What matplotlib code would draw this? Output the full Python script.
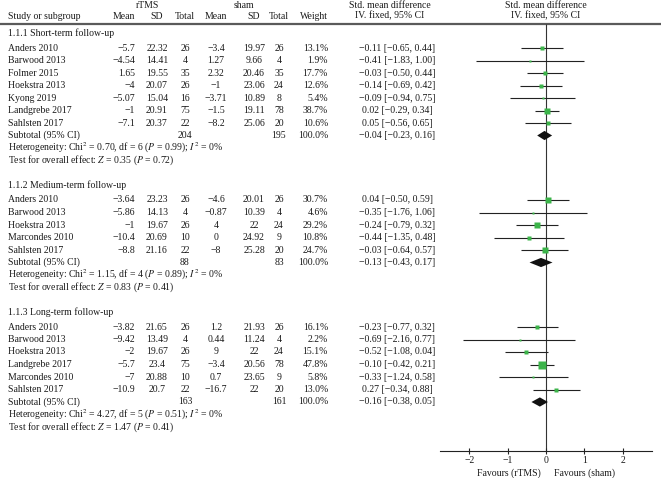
import matplotlib
matplotlib.use("Agg")
import matplotlib.pyplot as plt
import numpy as np

plt.rcParams['font.family'] = ['Liberation Serif', 'DejaVu Serif']
plt.rcParams['mathtext.fontset'] = 'stix'

# ---------------- data ----------------
sections = ["1.1.1 Short-term follow-up", "1.1.2 Medium-term follow-up", "1.1.3 Long-term follow-up"]

short_names = ["Anders 2010", "Barwood 2013", "Folmer 2015", "Hoekstra 2013", "Kyong 2019", "Landgrebe 2017", "Sahlsten 2017"]
short_rtms_mean = [-5.7, -4.54, 1.65, -4, -5.07, -1, -7.1]
short_rtms_sd = [22.32, 14.41, 19.55, 20.07, 15.04, 20.91, 20.37]
short_rtms_n = [26, 4, 35, 26, 16, 75, 22]
short_sham_mean = [-3.4, 1.27, 2.32, -1, -3.71, -1.5, -8.2]
short_sham_sd = [19.97, 9.66, 20.46, 23.06, 10.89, 19.11, 25.06]
short_sham_n = [26, 4, 35, 24, 8, 78, 20]
short_weight = [13.1, 1.9, 17.7, 12.6, 5.4, 38.7, 10.6]
short_smd = [-0.11, -0.41, -0.03, -0.14, -0.09, 0.02, 0.05]
short_lo = [-0.65, -1.83, -0.50, -0.69, -0.94, -0.29, -0.56]
short_hi = [0.44, 1.00, 0.44, 0.42, 0.75, 0.34, 0.65]
short_total = [204, 195]
short_sub = [-0.04, -0.23, 0.16]
short_het = ["0.70", "6", "0.99", "0"]
short_z = ["0.35", "0.72"]

med_names = ["Anders 2010", "Barwood 2013", "Hoekstra 2013", "Marcondes 2010", "Sahlsten 2017"]
med_rtms_mean = [-3.64, -5.86, -1, -10.4, -8.8]
med_rtms_sd = [23.23, 14.13, 19.67, 20.69, 21.16]
med_rtms_n = [26, 4, 26, 10, 22]
med_sham_mean = [-4.6, -0.87, 4, 0, -8]
med_sham_sd = [20.01, 10.39, 22, 24.92, 25.28]
med_sham_n = [26, 4, 24, 9, 20]
med_weight = [30.7, 4.6, 29.2, 10.8, 24.7]
med_smd = [0.04, -0.35, -0.24, -0.44, -0.03]
med_lo = [-0.50, -1.76, -0.79, -1.35, -0.64]
med_hi = [0.59, 1.06, 0.32, 0.48, 0.57]
med_total = [88, 83]
med_sub = [-0.13, -0.43, 0.17]
med_het = ["1.15", "4", "0.89", "0"]
med_z = ["0.83", "0.41"]

long_names = ["Anders 2010", "Barwood 2013", "Hoekstra 2013", "Landgrebe 2017", "Marcondes 2010", "Sahlsten 2017"]
long_rtms_mean = [-3.82, -9.42, -2, -5.7, -7, -10.9]
long_rtms_sd = [21.65, 13.49, 19.67, 23.4, 20.88, 20.7]
long_rtms_n = [26, 4, 26, 75, 10, 22]
long_sham_mean = [1.2, 0.44, 9, -3.4, 0.7, -16.7]
long_sham_sd = [21.93, 11.24, 22, 20.56, 23.65, 22]
long_sham_n = [26, 4, 24, 78, 9, 20]
long_weight = [16.1, 2.2, 15.1, 47.8, 5.8, 13.0]
long_smd = [-0.23, -0.69, -0.52, -0.10, -0.33, 0.27]
long_lo = [-0.77, -2.16, -1.08, -0.42, -1.24, -0.34]
long_hi = [0.32, 0.77, 0.04, 0.21, 0.58, 0.88]
long_total = [163, 161]
long_sub = [-0.16, -0.38, 0.05]
long_het = ["4.27", "5", "0.51", "0"]
long_z = ["1.47", "0.41"]

xticks = [-2, -1, 0, 1, 2]

groups = [
    (short_names, short_rtms_mean, short_rtms_sd, short_rtms_n, short_sham_mean, short_sham_sd, short_sham_n,
     short_weight, short_smd, short_lo, short_hi, short_total, short_sub, short_het, short_z),
    (med_names, med_rtms_mean, med_rtms_sd, med_rtms_n, med_sham_mean, med_sham_sd, med_sham_n,
     med_weight, med_smd, med_lo, med_hi, med_total, med_sub, med_het, med_z),
    (long_names, long_rtms_mean, long_rtms_sd, long_rtms_n, long_sham_mean, long_sham_sd, long_sham_n,
     long_weight, long_smd, long_lo, long_hi, long_total, long_sub, long_het, long_z),
]

# ---------------- layout ----------------
W, H = 661, 478
FS = 7
TXT = '#1a1a1a'
GREEN = '#3cb44a'
ROW = 12.5

def m(s):
    return s.replace('-', '\u2212')

def num(v):
    return m(f"{v:g}")

def ci(e, lo, hi):
    return m(f"{e:.2f} [{lo:.2f}, {hi:.2f}]")

fig = plt.figure(figsize=(W / 100, H / 100), dpi=100)
at = fig.add_axes([0, 0, 1, 1])
at.set_xlim(0, W)
at.set_ylim(H, 0)
at.axis('off')

ax_left, ax_right, x0 = 440, 652, 546
unit = 38.3
fa = fig.add_axes([ax_left / W, 0, (ax_right - ax_left) / W, 1])
fa.set_facecolor('none')
fa.set_xlim((ax_left - x0) / unit, (ax_right - x0) / unit)
fa.set_ylim(H, 0)
axis_y = 451
for s in ['top', 'left', 'right']:
    fa.spines[s].set_visible(False)
fa.spines['bottom'].set_position(('data', axis_y))
fa.spines['bottom'].set_linewidth(0.8)
fa.spines['bottom'].set_color('#222222')
fa.set_yticks([])
fa.set_xticks(xticks)
fa.set_xticklabels([m(str(t)) for t in xticks])
fa.tick_params(axis='x', direction='inout', length=4.5, width=0.8, color='#222222',
               labelsize=FS, labelcolor=TXT, pad=1.5)

# column positions
c_study = 8
c_rm = 135   # right aligned
c_rsd = 157
c_rn = 185
c_sm = 216
c_ssd = 254
c_sn = 279
c_w = 328    # right aligned
c_ci = 397

def t(x, y, s, ha='center', **kw):
    at.text(x, y, s, ha=ha, va='center', fontsize=FS, color=TXT, **kw)

# header
hy1, hy2, line_y = 5, 16, 24
t(148, hy1, "rTMS")
t(244, hy1, "sham")
t(390, hy1, "Std. mean difference")
t(390, hy2, "IV. fixed, 95% CI")
fa.text(0, hy1, "Std. mean difference", ha='center', va='center', fontsize=FS, color=TXT)
fa.text(0, hy2, "IV. fixed, 95% CI", ha='center', va='center', fontsize=FS, color=TXT)
t(c_study, hy2, "Study or subgroup", ha='left')
t(c_rm, hy2, "Mean", ha='right')
t(c_rsd, hy2, "SD")
t(c_rn, hy2, "Total")
t(c_sm, hy2, "Mean")
t(c_ssd, hy2, "SD")
t(c_sn, hy2, "Total")
t(c_w, hy2, "Weight", ha='right')
at.axhline(line_y, color='#5a5a5a', lw=1.6)

# zero line
fa.vlines(0, line_y, axis_y, color='#333333', lw=0.8, zorder=1)

y = 33
for title, g in zip(sections, groups):
    (names, rm, rsd, rn, sm, ssd, sn, wt, smd, lo, hi, tot, sub, het, z) = g
    t(c_study, y, title, ha='left')
    ys = y + 15 + ROW * np.arange(len(names))
    for i, yy in enumerate(ys):
        t(c_study, yy, names[i], ha='left')
        t(c_rm, yy, num(rm[i]), ha='right')
        t(c_rsd, yy, num(rsd[i]))
        t(c_rn, yy, str(rn[i]))
        t(c_sm, yy, num(sm[i]))
        t(c_ssd, yy, num(ssd[i]))
        t(c_sn, yy, str(sn[i]))
        t(c_w, yy, f"{wt[i]:.1f}%", ha='right')
        t(c_ci, yy, ci(smd[i], lo[i], hi[i]))
    fa.hlines(ys, lo, hi, color='#222222', lw=0.8, zorder=2)
    for i, yy in enumerate(ys):
        side_px = max(2.0, 0.755 * wt[i] ** 0.6)
        fa.plot(smd[i], yy, 's', ms=side_px * 0.72, color=GREEN, mec='none', zorder=3)
    ysub = ys[-1] + ROW
    t(c_study, ysub, "Subtotal (95% CI)", ha='left')
    t(c_rn, ysub, str(tot[0]))
    t(c_sn, ysub, str(tot[1]))
    t(c_w, ysub, "100.0%", ha='right')
    t(c_ci, ysub, ci(*sub))
    dh = 4.6
    fa.fill([sub[1], sub[0], sub[2], sub[0]], [ysub, ysub - dh, ysub, ysub + dh],
            color='#111111', lw=0, zorder=3)
    yh = ysub + ROW
    t(c_study, yh, "Heterogeneity: Chi$^2$ = %s, df = %s ($P$ = %s); $I^2$ = %s%%" % tuple(het), ha='left')
    yz = yh + ROW
    t(c_study, yz, "Test for overall effect: $Z$ = %s ($P$ = %s)" % tuple(z), ha='left')
    y = yz + 24.5

fa.text(-0.15, 473, "Favours (rTMS)", ha='right', va='center', fontsize=FS, color=TXT)
fa.text(0.2, 473, "Favours (sham)", ha='left', va='center', fontsize=FS, color=TXT)

fig.savefig("out.png", dpi=100)
